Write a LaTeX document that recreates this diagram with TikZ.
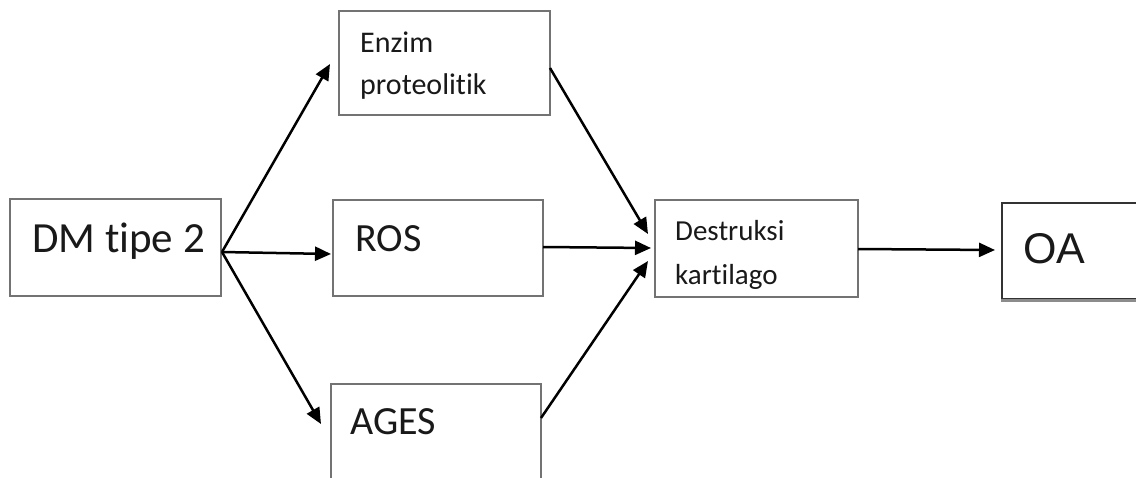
\documentclass[tikz,border=0pt]{standalone}
\usepackage{fontspec}
\setmainfont[Ligatures=NoCommon]{Carlito}
\newfontfamily\arialfont{Liberation Sans}
\usetikzlibrary{arrows.meta}
\tikzset{
  box/.style={draw=black!55, line width=1.1pt, fill=white, inner sep=0pt},
  lbl/.style={anchor=base west, inner sep=0pt, text=black!90},
  arr/.style={line width=2.5pt, -{Triangle[length=16pt,width=14pt]}}
}
\begin{document}
\begin{tikzpicture}[x=1pt,y=-1pt]
\useasboundingbox (0,0) rectangle (1136,477);
% boxes
\node[box, minimum width=211pt, minimum height=97pt] (dm) at (115.5,247.5) {};
\node[box, minimum width=211pt, minimum height=104pt] (enz) at (444.5,63) {};
\node[box, minimum width=210pt, minimum height=96pt] (ros) at (438,248) {};
\node[box, minimum width=210pt, minimum height=96pt] (ages) at (436,432) {};
\node[box, minimum width=203pt, minimum height=97pt] (des) at (756.5,248.5) {};
\node[box, draw=black!80, minimum width=140pt, minimum height=96pt] (oa) at (1072,251) {};
\draw[black!45, line width=2.5pt] ([yshift=-1pt]oa.south west) -- ([yshift=-1pt]oa.south east);
% labels
\node[lbl, font=\fontsize{43}{43}\selectfont] (tdm) at (32,252) {DM tipe 2};
\node[lbl, font=\fontsize{30}{30}\selectfont] (tenz1) at (360,52) {Enzim};
\node[lbl, font=\fontsize{30}{30}\selectfont] (tenz2) at (360,94) {proteolitik};
\node[lbl, font=\fontsize{40}{40}\selectfont] (tros) at (355,251) {ROS};
\node[lbl, font=\fontsize{40}{40}\selectfont] (tages) at (350,434) {AGES};
\node[lbl, font=\fontsize{29}{29}\selectfont] (tdes1) at (675,240) {Destruksi};
\node[lbl, font=\fontsize{29}{29}\selectfont] (tdes2) at (675,284) {kartilago};
\node[lbl, font=\arialfont\fontsize{43}{43}\selectfont] (toa) at (1023,263) {OA};
% connector points
\coordinate (dmout) at (222,252);
\coordinate (enzin) at (330,64);
\coordinate (rosin) at (331,254);
\coordinate (agesin) at (321,424);
\coordinate (enzout) at (550,68);
\coordinate (rosout) at (543,247);
\coordinate (agesout) at (541,418);
\coordinate (desin1) at (648,234);
\coordinate (desin2) at (651,248);
\coordinate (desin3) at (648,261);
\coordinate (desout) at (858,249);
\coordinate (oain) at (995,250);
% arrows
\draw[arr] (dmout) -- (enzin);
\draw[arr] (dmout) -- (rosin);
\draw[arr] (dmout) -- (agesin);
\draw[arr] (enzout) -- (desin1);
\draw[arr] (rosout) -- (desin2);
\draw[arr] (agesout) -- (desin3);
\draw[arr] (desout) -- (oain);
\end{tikzpicture}
\end{document}
